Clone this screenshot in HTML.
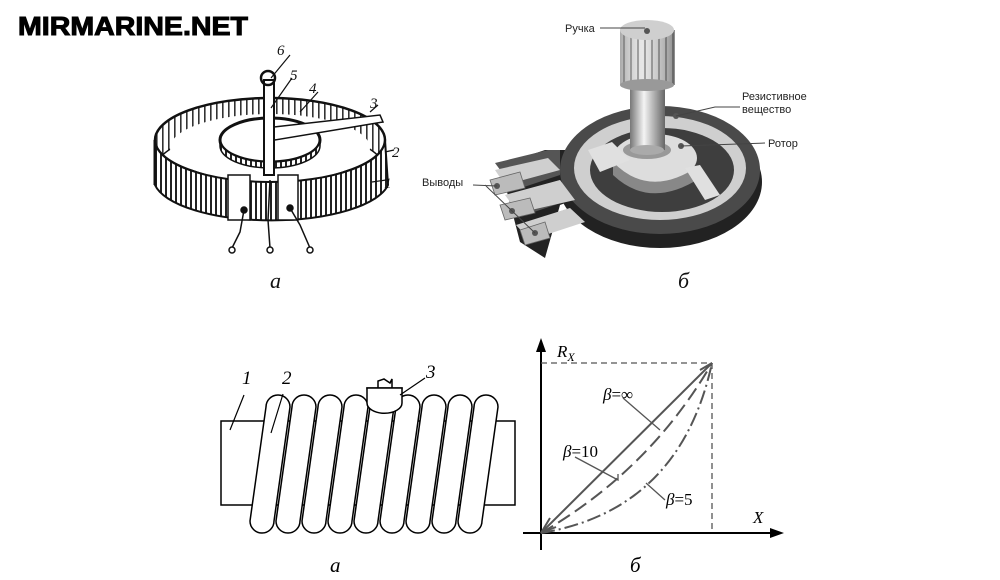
<!DOCTYPE html>
<html><head><meta charset="utf-8"><style>
html,body{margin:0;padding:0;background:#fff;}
svg{display:block}
</style></head><body>
<svg width="1000" height="580" viewBox="0 0 1000 580" xmlns="http://www.w3.org/2000/svg">
<defs>
<pattern id="st" width="5" height="10" patternUnits="userSpaceOnUse"><rect width="5" height="10" fill="#fff"/><rect width="2" height="10" fill="#222"/></pattern>
<pattern id="st2" width="6" height="10" patternUnits="userSpaceOnUse"><rect width="6" height="10" fill="#fff"/><rect width="1.6" height="10" fill="#333"/></pattern>
<linearGradient id="shaft" x1="0" x2="1"><stop offset="0" stop-color="#777"/><stop offset="0.4" stop-color="#f4f4f4"/><stop offset="1" stop-color="#666"/></linearGradient>
<pattern id="rib" width="7" height="10" patternUnits="userSpaceOnUse"><rect width="7" height="10" fill="#ddd"/><rect width="2" height="10" fill="#777"/></pattern>
<linearGradient id="knob" x1="0" x2="1"><stop offset="0" stop-color="#888" stop-opacity=".6"/><stop offset="0.4" stop-color="#fff" stop-opacity=".3"/><stop offset="1" stop-color="#555" stop-opacity=".6"/></linearGradient>
<radialGradient id="hub" cx="0.5" cy="0.3" r="0.7"><stop offset="0" stop-color="#fff"/><stop offset="1" stop-color="#999"/></radialGradient>
</defs>

<text x="18" y="35" font-family="Liberation Sans, sans-serif" font-weight="bold" font-size="26" textLength="230" lengthAdjust="spacingAndGlyphs" fill="#000" stroke="#000" stroke-width="1">MIRMARINE.NET</text>

<!-- top-left coil ring -->
<g stroke="#111" stroke-width="1.5">
<path d="M155,140 A115 42 0 0 1 385,140 L385,170 A115 42 0 0 0 155,170 Z" fill="url(#st2)"/>
<ellipse cx="270" cy="140" rx="115" ry="42" fill="none" stroke-width="2.5"/>
<ellipse cx="270" cy="148" rx="100" ry="34" fill="#fff" stroke="none"/>
<!-- inner wheel -->
<ellipse cx="270" cy="140" rx="50" ry="22" fill="#fff" stroke-width="3"/>
<path d="M220,140 A50 22 0 0 0 320,140 L320,146 A50 22 0 0 1 220,146 Z" fill="url(#st)"/>
<path d="M265,128 L380,115 L383,122 L275,140 Z" fill="#fff"/>
<rect x="264" y="80" width="10" height="95" fill="#fff" stroke-width="2"/>
<circle cx="268" cy="78" r="7" fill="none" stroke-width="2.5"/>
<path d="M155,140 A115 42 0 0 0 385,140 L388,185 A118 42 0 0 1 155,185 Z" fill="url(#st)" stroke-width="2"/>
<path d="M155,140 L155,185" stroke-width="3"/>
<rect x="228" y="175" width="22" height="45" fill="#fff"/>
<rect x="278" y="175" width="20" height="45" fill="#fff"/>
<circle cx="244" cy="210" r="3" fill="#111"/><circle cx="290" cy="208" r="3" fill="#111"/>
<path d="M244,210 L240,232 L232,248 M270,180 L268,220 L270,248 M290,208 L300,225 L310,248" fill="none"/>
<circle cx="232" cy="250" r="3" fill="#fff"/><circle cx="270" cy="250" r="3" fill="#fff"/><circle cx="310" cy="250" r="3" fill="#fff"/>
<path d="M271,78 L290,55 M271,108 L292,78 M300,112 L318,92 M370,112 L378,105 M385,152 L394,150 M372,182 L386,180" fill="none" stroke-width="1.2"/>
</g>
<g font-family="Liberation Serif, serif" font-style="italic" font-size="15" fill="#111">
<text x="277" y="55">6</text><text x="290" y="80">5</text><text x="309" y="93">4</text><text x="370" y="108">3</text><text x="392" y="157">2</text><text x="384" y="188">1</text>
</g>
<text x="270" y="288" font-family="Liberation Serif, serif" font-style="italic" font-size="22" fill="#111">а</text>

<!-- top-right potentiometer -->
<g>
<path d="M500,165 L545,150 L600,150 L600,190 L560,205 L545,258 L520,242 Z" fill="#222"/>
<ellipse cx="660" cy="182" rx="102" ry="66" fill="#222"/>
<ellipse cx="660" cy="170" rx="100" ry="64" fill="#4a4a4a"/>
<path d="M495,163 L548,150 L560,150 L560,175 L515,190 Z M510,195 L560,180 L570,200 L525,215 Z M520,225 L570,208 L580,220 L535,240 Z" fill="#555"/>
<ellipse cx="660" cy="168" rx="86" ry="52" fill="#cfcfcf"/>
<path d="M495,170 L548,158 L560,170 L505,185 Z M505,195 L560,180 L575,200 L518,213 Z M516,225 L570,208 L585,222 L530,240 Z" fill="#cfcfcf"/>
<ellipse cx="662" cy="170" rx="72" ry="42" fill="#3e3e3e"/>
<ellipse cx="655" cy="158" rx="42" ry="24" fill="#ddd"/>
<path d="M613,162 Q650,200 700,165 L700,178 Q650,210 613,175 Z" fill="#888"/>
<path d="M588,150 L612,142 L630,160 L600,172 Z" fill="#e0e0e0"/>
<path d="M685,168 L700,165 L720,195 L705,200 Z" fill="#e0e0e0"/>
<path d="M490,180 L520,172 L525,188 L495,195 Z M500,205 L530,198 L535,213 L505,220 Z M520,230 L545,222 L550,238 L525,245 Z" fill="#bbb" stroke="#666" stroke-width=".8"/>
<ellipse cx="647" cy="150" rx="24" ry="9" fill="#999"/>
<rect x="630" y="85" width="35" height="65" fill="url(#shaft)"/>
<ellipse cx="647" cy="150" rx="17" ry="5" fill="#aaa"/>
<rect x="620" y="30" width="55" height="55" fill="url(#rib)"/>
<rect x="620" y="30" width="55" height="55" fill="url(#knob)"/>
<ellipse cx="647" cy="85" rx="27" ry="6" fill="#999"/>
<ellipse cx="647" cy="30" rx="27" ry="10" fill="#cfcfcf"/>
<g fill="#555"><circle cx="647" cy="31" r="3"/><circle cx="676" cy="116" r="3"/><circle cx="681" cy="146" r="3"/><circle cx="497" cy="186" r="3"/><circle cx="512" cy="211" r="3"/><circle cx="535" cy="233" r="3"/></g>
<g stroke="#444" stroke-width="1" fill="none">
<path d="M600,28 L645,28 M676,116 L715,107 L740,107 M681,146 L765,143 M473,185 L497,186 M485,185 L512,211 M485,185 L535,233"/>
</g>
</g>
<g font-family="Liberation Sans, sans-serif" font-size="11" fill="#222">
<text x="565" y="32">Ручка</text><text x="742" y="100">Резистивное</text><text x="742" y="113">вещество</text><text x="768" y="147">Ротор</text><text x="422" y="186">Выводы</text>
</g>
<text x="678" y="288" font-family="Liberation Serif, serif" font-style="italic" font-size="22" fill="#111">б</text>

<!-- bottom-left coil -->
<g stroke="#000" stroke-width="1.5" fill="#fff">
<rect x="221" y="421" width="294" height="84"/>
<path d="M250,521 L266,407 A12 12 0 0 1 290,407 L274,521 A12 12 0 0 1 250,521 Z"/>
<path d="M276,521 L292,407 A12 12 0 0 1 316,407 L300,521 A12 12 0 0 1 276,521 Z"/>
<path d="M302,521 L318,407 A12 12 0 0 1 342,407 L326,521 A12 12 0 0 1 302,521 Z"/>
<path d="M328,521 L344,407 A12 12 0 0 1 368,407 L352,521 A12 12 0 0 1 328,521 Z"/>
<path d="M354,521 L370,407 A12 12 0 0 1 394,407 L378,521 A12 12 0 0 1 354,521 Z"/>
<path d="M380,521 L396,407 A12 12 0 0 1 420,407 L404,521 A12 12 0 0 1 380,521 Z"/>
<path d="M406,521 L422,407 A12 12 0 0 1 446,407 L430,521 A12 12 0 0 1 406,521 Z"/>
<path d="M432,521 L448,407 A12 12 0 0 1 472,407 L456,521 A12 12 0 0 1 432,521 Z"/>
<path d="M458,521 L474,407 A12 12 0 0 1 498,407 L482,521 A12 12 0 0 1 458,521 Z"/>
<path d="M367,388 L402,388 A17 15 0 0 1 367,388 Z" transform="translate(0,0)"/>
<path d="M367,388 L367,403 A17 10 0 0 0 402,403 L402,388 Z"/>
<path d="M378,388 L378,381 L384,379 L390,383 L392,379 L392,388" fill="none"/>
<path d="M230,430 L244,395 M271,433 L283,394 M400,395 L425,378" fill="none" stroke-width="1.2"/>
</g>
<g font-family="Liberation Serif, serif" font-style="italic" font-size="19" fill="#000">
<text x="242" y="384">1</text><text x="282" y="384">2</text><text x="426" y="378">3</text>
<text x="330" y="572" font-size="21">а</text><text x="630" y="572" font-size="21">б</text>
</g>

<!-- graph -->
<g stroke="#000" stroke-width="2" fill="none">
<path d="M541,550 L541,350 M523,533 L775,533"/>
</g>
<path d="M536,352 L541,338 L546,352 Z M770,528 L784,533 L770,538 Z" fill="#000"/>
<g stroke="#555" stroke-width="1.3" fill="none" stroke-dasharray="6,4">
<path d="M541,363 L712,363 M712,363 L712,533"/>
</g>
<g stroke="#555" stroke-width="2" fill="none">
<path d="M541,533 L712,363"/>
<path d="M541,533 Q650,470 712,363" stroke-dasharray="14,6"/>
<path d="M541,533 Q680,510 712,363" stroke-dasharray="14,4,2,4"/>
<path d="M541,533 L550,518 M541,533 L556,527 M712,363 L700,370"/>
<path d="M623,398 L660,430 M575,457 L618,480 L618,474 M646,483 L665,500" stroke-width="1.3"/>
</g>
<g font-family="Liberation Serif, serif" font-style="italic" font-size="17" fill="#000">
<text x="557" y="357">R<tspan font-size="12" dy="4">X</tspan></text>
<text x="753" y="523">X</text>
<text x="603" y="400">β<tspan font-style="normal">=∞</tspan></text>
<text x="563" y="457">β<tspan font-style="normal">=10</tspan></text>
<text x="666" y="505">β<tspan font-style="normal">=5</tspan></text>
</g>
</svg>
</body></html>
